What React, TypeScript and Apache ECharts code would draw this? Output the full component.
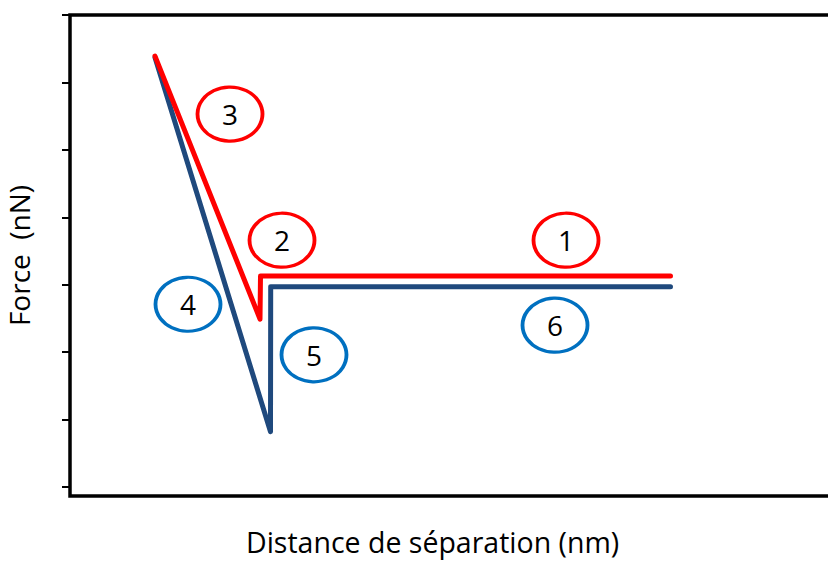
import React, { useEffect, useRef } from "react";
import * as echarts from "echarts";

// Approach curve (red): contact, jump-to-contact, compression
const approachX = [8.5, 19.0, 19.05, 60.05];
const approachY = [6.39, 2.49, 3.13, 3.13];
// Retraction curve (blue): decompression, adhesion, pull-off
const retractX = [8.5, 20.05, 20.07, 60.05];
const retractY = [6.37, 0.82, 2.97, 2.97];

// Numbered step markers
const redStepLabels = ["1", "2", "3"];
const redStepX = [49.6, 21.2, 16.0];
const redStepY = [3.66, 3.66, 5.53];
const blueStepLabels = ["4", "5", "6"];
const blueStepX = [11.8, 24.4, 48.5];
const blueStepY = [2.71, 1.96, 2.4];

// Y axis tick values (unlabelled)
const yTicks = [0, 1, 2, 3, 4, 5, 6, 7];

const xTitle = "Distance de séparation (nm)";
const yTitle = "Force  (nN)";

const FONT = "'Open Sans', 'Noto Sans', sans-serif";

export default function App() {
  const ref = useRef<HTMLDivElement>(null);
  useEffect(() => {
    if (!ref.current) return;
    const chart = echarts.init(ref.current, null, { renderer: "svg" });
    const zip = (xs: number[], ys: number[]) => xs.map((x, i) => [x, ys[i]]);
    const steps = (labels: string[], xs: number[], ys: number[]) =>
      labels.map((l, i) => ({ name: l, value: [xs[i], ys[i]] }));
    const stepLabel = {
      show: true,
      position: "inside",
      formatter: (p: any) => p.name,
      color: "#000",
      fontFamily: FONT,
      fontSize: 28,
    };
    chart.setOption({
      animation: false,
      grid: {
        show: true,
        left: 70,
        top: 15,
        width: 770,
        height: 481,
        outerBoundsMode: "none",
        containLabel: false,
        borderColor: "#000",
        borderWidth: 3.5,
        backgroundColor: "#fff",
      },
      xAxis: {
        type: "value",
        min: 0,
        max: 77,
        axisLine: { show: false },
        axisTick: { show: false },
        axisLabel: { show: false },
        splitLine: { show: false },
      },
      yAxis: {
        type: "value",
        min: -0.1335,
        max: 7,
        axisLine: { show: false },
        axisTick: {
          show: true,
          length: 8,
          customValues: yTicks,
          lineStyle: { color: "#000", width: 2 },
        },
        axisLabel: { show: false, customValues: yTicks },
        splitLine: { show: false },
        name: yTitle,
        nameLocation: "middle",
        nameGap: 37,
        nameTextStyle: { fontFamily: FONT, fontSize: 28, color: "#000" },
      },
      graphic: [
        {
          type: "text",
          left: 246,
          top: 527,
          style: { text: xTitle, font: `28.5px ${FONT}`, fill: "#000" },
        },
      ],
      series: [
        {
          type: "line",
          data: zip(approachX, approachY),
          symbol: "none",
          lineStyle: { color: "#FF0000", width: 5, cap: "round", join: "round" },
          z: 3,
        },
        {
          type: "line",
          data: zip(retractX, retractY),
          symbol: "none",
          lineStyle: { color: "#1F497D", width: 5, cap: "round", join: "round" },
          z: 2,
        },
        {
          type: "scatter",
          data: steps(redStepLabels, redStepX, redStepY),
          symbol: "circle",
          symbolSize: [65, 54],
          itemStyle: {
            color: "rgba(255,255,255,0)",
            borderColor: "#FF0000",
            borderWidth: 3.5,
            opacity: 1,
          },
          label: stepLabel,
          z: 4,
        },
        {
          type: "scatter",
          data: steps(blueStepLabels, blueStepX, blueStepY),
          symbol: "circle",
          symbolSize: [65, 54],
          itemStyle: {
            color: "rgba(255,255,255,0)",
            borderColor: "#0070C0",
            borderWidth: 3.5,
            opacity: 1,
          },
          label: stepLabel,
          z: 4,
        },
      ],
    });
    return () => chart.dispose();
  }, []);
  return (
    <div
      ref={ref}
      style={{ position: "absolute", left: 0, top: 0, width: 828, height: 561 }}
    />
  );
}
